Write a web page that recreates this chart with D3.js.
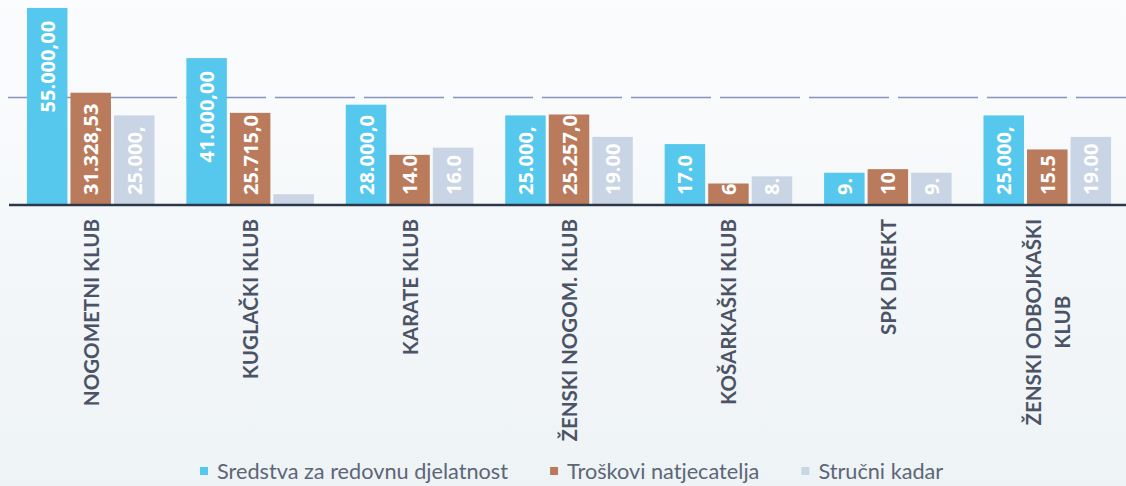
<!DOCTYPE html>
<html>
<head>
<meta charset="utf-8">
<script src="https://cdn.jsdelivr.net/npm/d3@7"></script>
<style>
  html, body { margin: 0; padding: 0; background: #f4f7f9; }
  svg { display: block; }
</style>
</head>
<body>
<svg id="chart" width="1126" height="486"></svg>
<script>
const categories = ["NOGOMETNI KLUB", "KUGLAČKI KLUB", "KARATE KLUB", "ŽENSKI NOGOM. KLUB", "KOŠARKAŠKI KLUB", "SPK DIREKT", "ŽENSKI ODBOJKAŠKI KLUB"];
const categoryLines = [["NOGOMETNI KLUB"], ["KUGLAČKI KLUB"], ["KARATE KLUB"], ["ŽENSKI NOGOM. KLUB"], ["KOŠARKAŠKI KLUB"], ["SPK DIREKT"], ["ŽENSKI ODBOJKAŠKI", "KLUB"]];
const seriesNames = ["Sredstva za redovnu djelatnost", "Troškovi natjecatelja", "Stručni kadar"];
const sredstva = [55000, 41000, 28000, 25000, 17000, 9000, 25000];
const troskovi = [31328.53, 25715, 14000, 25257, 6000, 10000, 15500];
const strucni = [25000, 3000, 16000, 19000, 8000, 9000, 19000];
const gridValues = [30000];

const seriesValues = [sredstva, troskovi, strucni];
const colors = ["#56c8ee", "#ba7b5d", "#c9d4e4"];

const svg = d3.select("#chart");
const W = 1126, H = 486;

const defs = svg.append("defs");
const grad = defs.append("linearGradient").attr("id", "bg").attr("x1", 0).attr("y1", 0).attr("x2", 0).attr("y2", 1);
grad.append("stop").attr("offset", "0%").attr("stop-color", "#fbfcfd");
grad.append("stop").attr("offset", "100%").attr("stop-color", "#eef3f6");
svg.append("rect").attr("width", W).attr("height", H).attr("fill", "url(#bg)");

const x0 = d3.scaleBand().domain(categories).range([11, 1127]).paddingInner(0.2).paddingOuter(0.1);
const x1 = d3.scaleBand().domain(seriesNames).range([0, x0.bandwidth()]).paddingInner(0.07);
const y = d3.scaleLinear().domain([0, 60000]).range([205, -10]);

svg.append("g").selectAll("line").data(gridValues).join("line")
  .attr("x1", 8).attr("x2", W)
  .attr("y1", d => y(d)).attr("y2", d => y(d))
  .attr("stroke", "#8595bb").attr("stroke-width", 1.6)
  .attr("stroke-dasharray", "80,9");

const fmt = d3.formatLocale({decimal: ",", thousands: ".", grouping: [3], currency: ["", ""]}).format(",.2f");

const rows = categories.map((c, i) => ({cat: c, vals: seriesNames.map((s, j) => ({s, j, v: seriesValues[j][i]}))}));

const groups = svg.append("g").selectAll("g").data(rows).join("g")
  .attr("transform", d => `translate(${x0(d.cat)},0)`);

groups.selectAll("rect").data(d => d.vals).join("rect")
  .attr("x", d => x1(d.s))
  .attr("width", x1.bandwidth())
  .attr("y", d => y(d.v))
  .attr("height", d => y(0) - y(d.v))
  .attr("fill", d => colors[d.j]);

groups.each(function(row) {
  const g = d3.select(this);
  row.vals.forEach(d => {
    const top = y(d.v), bottom = y(0), h = bottom - top;
    const cx = x1(d.s) + x1.bandwidth() / 2;
    const t = g.append("text")
      .attr("font-family", "'Open Sans', sans-serif")
      .attr("font-weight", 700)
      .attr("font-size", 20)
      .attr("fill", "#ffffff")
      .attr("dominant-baseline", "central");
    let s = fmt(d.v);
    t.text(s);
    let len = t.node().getComputedTextLength();
    const avail = h - 10;
    if (len <= avail) {
      const textTop = Math.min(top + 13, bottom - 10 - len);
      t.attr("text-anchor", "end").attr("transform", `translate(${cx},${textTop}) rotate(-90)`);
    } else {
      while (s.length > 0 && len > avail) {
        s = s.slice(0, -1);
        t.text(s);
        len = s.length ? t.node().getComputedTextLength() : 0;
      }
      if (!s.length) { t.remove(); return; }
      t.attr("text-anchor", "start").attr("transform", `translate(${cx},${bottom - 10}) rotate(-90)`);
    }
  });
});

const xAxis = d3.axisBottom(x0).tickSize(0).tickFormat("");
const ax = svg.append("g").attr("transform", `translate(0,${y(0)})`).call(xAxis);
ax.select(".domain").remove();
svg.append("line").attr("x1", 9).attr("x2", W).attr("y1", y(0)).attr("y2", y(0))
  .attr("stroke", "#2b3849").attr("stroke-width", 2.5);

const labelFont = "Lato, 'Open Sans', sans-serif";
ax.selectAll(".tick").each(function(c) {
  const lines = categoryLines[categories.indexOf(c)];
  const t = d3.select(this).append("text")
    .attr("font-family", labelFont)
    .attr("font-weight", 700)
    .attr("font-size", 20.5)
    .attr("fill", "#4a5466");
  const lh = 29;
  const n = lines.length;
  lines.forEach((ln, k) => {
    t.append("tspan").attr("x", 0).attr("y", (k - (n - 1) / 2) * lh).text(ln);
  });
  let maxW = 0;
  t.selectAll("tspan").each(function() { maxW = Math.max(maxW, this.getComputedTextLength()); });
  t.attr("text-anchor", "middle").attr("dominant-baseline", "central")
   .attr("transform", `translate(0,${14 + maxW / 2}) rotate(-90)`);
});

const legend = svg.append("g");
let lx = 200;
seriesNames.forEach((name, j) => {
  legend.append("rect").attr("x", lx).attr("y", 467).attr("width", 8).attr("height", 8).attr("fill", colors[j]);
  const t = legend.append("text").attr("x", lx + 17).attr("y", 479)
    .attr("font-family", "Lato, sans-serif")
    .attr("font-size", 21.7).attr("fill", "#5c6676").text(name);
  lx += 17 + t.node().getComputedTextLength() + 42;
});
</script>
</body>
</html>
